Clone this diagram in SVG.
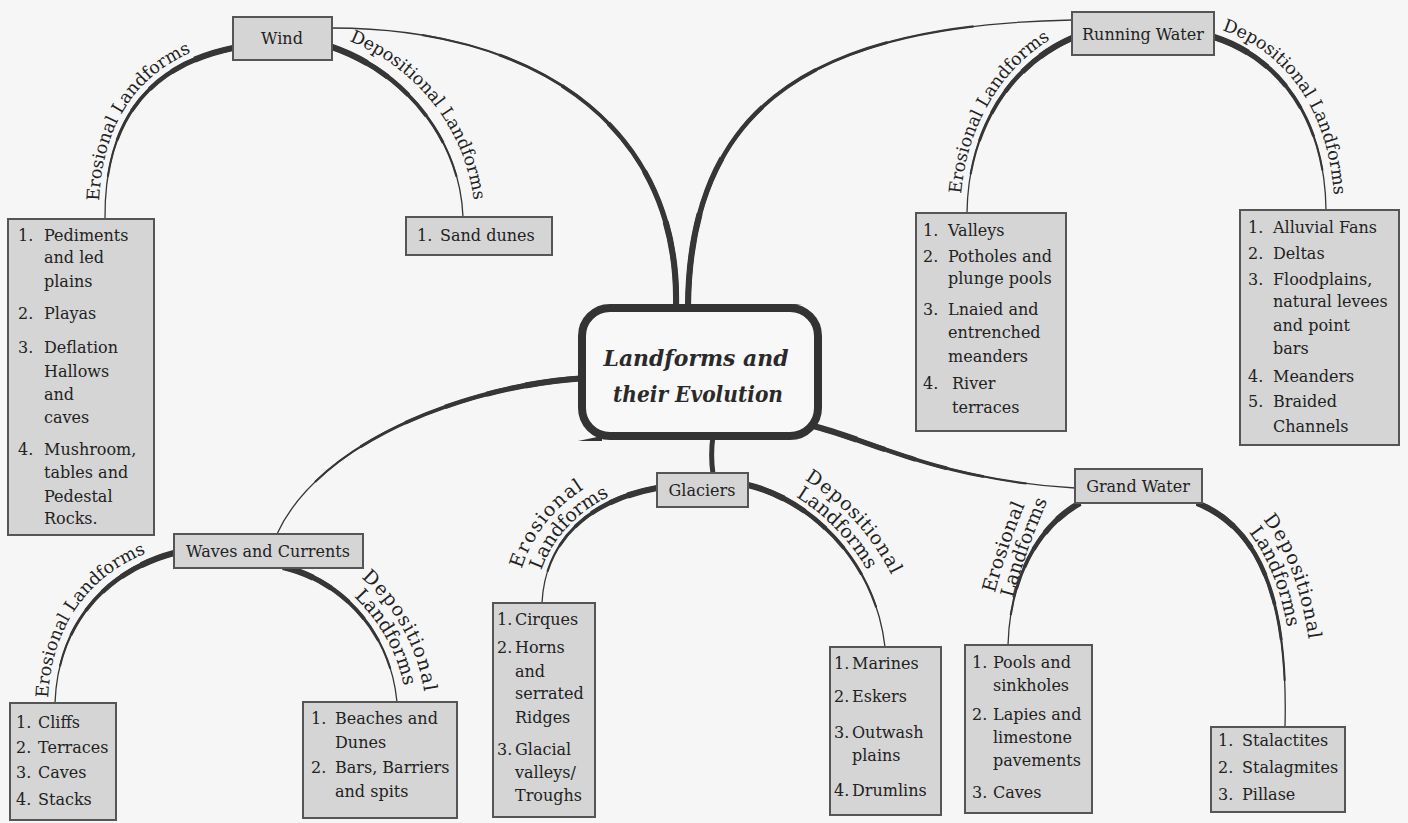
<svg xmlns="http://www.w3.org/2000/svg" width="1408" height="823" viewBox="0 0 1408 823">
<style>
.bg{fill:#f6f6f6}
.box{fill:#d5d5d5;stroke:#555;stroke-width:2}
.hd{font-family:"DejaVu Serif","Liberation Serif",serif;font-size:16px;fill:#222;text-anchor:middle}
.t{font-family:"DejaVu Serif","Liberation Serif",serif;font-size:16px;fill:#222}
.lb{font-family:"DejaVu Serif","Liberation Serif",serif;font-size:17.5px;fill:#222}
.lb2{font-family:"DejaVu Serif","Liberation Serif",serif;font-size:19px;fill:#222}
.ttl{font-family:"DejaVu Serif","Liberation Serif",serif;font-size:23px;font-style:italic;font-weight:bold;fill:#2a2a2a;text-anchor:middle}
.ln{fill:none;stroke:#363636}
.w1{stroke-width:1.3;stroke-linecap:round}
.w2{stroke-width:2.1;stroke-dasharray:82 200}
.w3{stroke-width:2.9;stroke-dasharray:66 200}
.w4{stroke-width:3.7;stroke-dasharray:52 200}
.w5{stroke-width:4.5;stroke-dasharray:40 200}
.w6{stroke-width:5.3;stroke-dasharray:28 200}
.w7{stroke-width:6.1;stroke-dasharray:17 200}
</style>
<defs>
<path id="k1" pathLength="100" d="M676,306 C680,130 540,28 332,28"/>
<path id="k2" pathLength="100" d="M688,306 C690,100 820,25 1072,20"/>
<path id="k3" pathLength="100" d="M586,378 C470,385 320,440 277,534"/>
<path id="k4" pathLength="100" d="M813,426 C870,440 940,480 1075,488"/>
<path id="a1" pathLength="100" d="M233,48 C150,65 104,120 105,219"/>
<path id="a2" pathLength="100" d="M332,47 C405,72 460,140 463,217"/>
<path id="a3" pathLength="100" d="M1072,38 C1010,65 968,130 967,213"/>
<path id="a4" pathLength="100" d="M1214,37 C1280,58 1325,120 1326,210"/>
<path id="a5" pathLength="100" d="M174,553 C110,570 58,620 55,703"/>
<path id="a6" pathLength="100" d="M283,567 C340,580 390,630 397,702"/>
<path id="a7" pathLength="100" d="M657,488 C590,500 545,540 542,603"/>
<path id="a8" pathLength="100" d="M748,485 C810,500 875,560 885,647"/>
<path id="a9" pathLength="100" d="M1080,503 C1040,525 1010,575 1008,645"/>
<path id="a10" pathLength="100" d="M1197,503 C1265,530 1288,610 1285,727"/>
<path id="t1" d="M99,215 C98,116 146,58 230,40"/>
<path id="t2" d="M336,36 C415,62 473,132 476,224"/>
<path id="t3" d="M960,214 C961,126 1006,56 1074,27"/>
<path id="t4" d="M1218,29 C1288,50 1334,115 1335,217"/>
<path id="t5" d="M48,702 C50,614 104,561 172,545"/>
<path id="t6" d="M285,558 C342,571 399,629 406,701 L409,750"/>
<path id="t8" d="M535,603 C538,540 589,493 656,481 L700,474"/>
<path id="t10" d="M750,477 C812,492 883,559 893,646 L896,690"/>
<path id="t12" d="M1010,610 C1020,570 1032,535 1050,495 L1060,475"/>
<path id="t14" d="M1200,495 C1268,522 1297,610 1294,727 L1293,760"/>
</defs>
<rect class="bg" x="0" y="0" width="1408" height="823"/>

<g id="connectors">
<g class="ln">
<use href="#k1" class="w1"/><use href="#k1" class="w2"/><use href="#k1" class="w3"/><use href="#k1" class="w4"/><use href="#k1" class="w5"/><use href="#k1" class="w6"/><use href="#k1" class="w7"/>
<use href="#k2" class="w1"/><use href="#k2" class="w2"/><use href="#k2" class="w3"/><use href="#k2" class="w4"/><use href="#k2" class="w5"/><use href="#k2" class="w6"/><use href="#k2" class="w7"/>
<use href="#k3" class="w1"/><use href="#k3" class="w2"/><use href="#k3" class="w3"/><use href="#k3" class="w4"/><use href="#k3" class="w5"/><use href="#k3" class="w6"/><use href="#k3" class="w7"/>
<use href="#k4" class="w1"/><use href="#k4" class="w2"/><use href="#k4" class="w3"/><use href="#k4" class="w4"/><use href="#k4" class="w5"/><use href="#k4" class="w6"/><use href="#k4" class="w7"/>
<path d="M713,436 C711,450 711,460 713,474" stroke-width="5"/>
<use href="#a1" class="w1"/><use href="#a1" class="w2"/><use href="#a1" class="w3"/><use href="#a1" class="w4"/><use href="#a1" class="w5"/><use href="#a1" class="w6"/><use href="#a1" class="w7"/>
<use href="#a2" class="w1"/><use href="#a2" class="w2"/><use href="#a2" class="w3"/><use href="#a2" class="w4"/><use href="#a2" class="w5"/><use href="#a2" class="w6"/><use href="#a2" class="w7"/>
<use href="#a3" class="w1"/><use href="#a3" class="w2"/><use href="#a3" class="w3"/><use href="#a3" class="w4"/><use href="#a3" class="w5"/><use href="#a3" class="w6"/><use href="#a3" class="w7"/>
<use href="#a4" class="w1"/><use href="#a4" class="w2"/><use href="#a4" class="w3"/><use href="#a4" class="w4"/><use href="#a4" class="w5"/><use href="#a4" class="w6"/><use href="#a4" class="w7"/>
<use href="#a5" class="w1"/><use href="#a5" class="w2"/><use href="#a5" class="w3"/><use href="#a5" class="w4"/><use href="#a5" class="w5"/><use href="#a5" class="w6"/><use href="#a5" class="w7"/>
<use href="#a6" class="w1"/><use href="#a6" class="w2"/><use href="#a6" class="w3"/><use href="#a6" class="w4"/><use href="#a6" class="w5"/><use href="#a6" class="w6"/><use href="#a6" class="w7"/>
<use href="#a7" class="w1"/><use href="#a7" class="w2"/><use href="#a7" class="w3"/><use href="#a7" class="w4"/><use href="#a7" class="w5"/><use href="#a7" class="w6"/><use href="#a7" class="w7"/>
<use href="#a8" class="w1"/><use href="#a8" class="w2"/><use href="#a8" class="w3"/><use href="#a8" class="w4"/><use href="#a8" class="w5"/><use href="#a8" class="w6"/><use href="#a8" class="w7"/>
<use href="#a9" class="w1"/><use href="#a9" class="w2"/><use href="#a9" class="w3"/><use href="#a9" class="w4"/><use href="#a9" class="w5"/><use href="#a9" class="w6"/><use href="#a9" class="w7"/>
<use href="#a10" class="w1"/><use href="#a10" class="w2"/><use href="#a10" class="w3"/><use href="#a10" class="w4"/><use href="#a10" class="w5"/><use href="#a10" class="w6"/><use href="#a10" class="w7"/>
</g>
<text class="lb"><textPath href="#t1" startOffset="14">Erosional Landforms</textPath></text>
<text class="lb"><textPath href="#t2" startOffset="14">Depositional Landforms</textPath></text>
<text class="lb"><textPath href="#t3" startOffset="20">Erosional Landforms</textPath></text>
<text class="lb"><textPath href="#t4" startOffset="4">Depositional Landforms</textPath></text>
<text class="lb"><textPath href="#t5" startOffset="4">Erosional Landforms</textPath></text>
<text class="lb2"><textPath href="#t6" startOffset="80">Landforms</textPath></text>
<text class="lb2" dy="-19"><textPath href="#t6" startOffset="72">Depositional</textPath></text>
<text class="lb2"><textPath href="#t8" startOffset="33">Landforms</textPath></text>
<text class="lb2" dy="-19"><textPath href="#t8" startOffset="28">Erosional</textPath></text>
<text class="lb2"><textPath href="#t10" startOffset="50">Landforms</textPath></text>
<text class="lb2" dy="-19"><textPath href="#t10" startOffset="48">Depositional</textPath></text>
<text class="lb2"><textPath href="#t12" startOffset="12">Landforms</textPath></text>
<text class="lb2" dy="-19"><textPath href="#t12" startOffset="12">Erosional</textPath></text>
<text class="lb2"><textPath href="#t14" startOffset="62">Landforms</textPath></text>
<text class="lb2" dy="-19"><textPath href="#t14" startOffset="60">Depositional</textPath></text>
</g>

<g id="center">
<rect x="582" y="308" width="236" height="128" rx="28" fill="#f8f8f8" stroke="#333" stroke-width="8"/>
<path d="M760,305 L802,304 L760,310 Z" fill="#333"/>
<path d="M602,436 L578,441 L602,441 Z" fill="#333"/>
<text class="ttl" x="696" y="366" textLength="185" lengthAdjust="spacingAndGlyphs">Landforms and</text>
<text class="ttl" x="698" y="402" textLength="170" lengthAdjust="spacingAndGlyphs">their Evolution</text>
</g>

<g id="wind">
<rect class="box" x="233" y="17" width="99" height="43"/>
<text class="hd" x="282" y="44">Wind</text>
</g>
<g id="wind-erosional">
<rect class="box" x="8" y="219" width="146" height="316"/>
<text class="t">
<tspan x="18" y="241">1.</tspan><tspan x="44" y="241">Pediments</tspan>
<tspan x="44" y="263">and led</tspan>
<tspan x="44" y="287">plains</tspan>
<tspan x="18" y="319">2.</tspan><tspan x="44" y="319">Playas</tspan>
<tspan x="18" y="353">3.</tspan><tspan x="44" y="353">Deflation</tspan>
<tspan x="44" y="377">Hallows</tspan>
<tspan x="44" y="400">and</tspan>
<tspan x="44" y="423">caves</tspan>
<tspan x="18" y="455">4.</tspan><tspan x="44" y="455">Mushroom,</tspan>
<tspan x="44" y="478">tables and</tspan>
<tspan x="44" y="502">Pedestal</tspan>
<tspan x="44" y="524">Rocks.</tspan>
</text>
</g>
<g id="wind-depositional">
<rect class="box" x="406" y="217" width="146" height="38"/>
<text class="t"><tspan x="417" y="241">1.</tspan><tspan x="440" y="241">Sand dunes</tspan></text>
</g>

<g id="running-water">
<rect class="box" x="1072" y="12" width="142" height="43"/>
<text class="hd" x="1143" y="40">Running Water</text>
</g>
<g id="running-erosional">
<rect class="box" x="916" y="213" width="150" height="218"/>
<text class="t">
<tspan x="923" y="236">1.</tspan><tspan x="948" y="236">Valleys</tspan>
<tspan x="923" y="262">2.</tspan><tspan x="948" y="262">Potholes and</tspan>
<tspan x="948" y="284">plunge pools</tspan>
<tspan x="923" y="315">3.</tspan><tspan x="948" y="315">Lnaied and</tspan>
<tspan x="948" y="338">entrenched</tspan>
<tspan x="948" y="362">meanders</tspan>
<tspan x="923" y="389">4.</tspan><tspan x="952" y="389">River</tspan>
<tspan x="952" y="413">terraces</tspan>
</text>
</g>
<g id="running-depositional">
<rect class="box" x="1240" y="210" width="159" height="235"/>
<text class="t">
<tspan x="1248" y="233">1.</tspan><tspan x="1273" y="233">Alluvial Fans</tspan>
<tspan x="1248" y="259">2.</tspan><tspan x="1273" y="259">Deltas</tspan>
<tspan x="1248" y="285">3.</tspan><tspan x="1273" y="285">Floodplains,</tspan>
<tspan x="1273" y="307">natural levees</tspan>
<tspan x="1273" y="331">and point</tspan>
<tspan x="1273" y="354">bars</tspan>
<tspan x="1248" y="382">4.</tspan><tspan x="1273" y="382">Meanders</tspan>
<tspan x="1248" y="407">5.</tspan><tspan x="1273" y="407">Braided</tspan>
<tspan x="1273" y="432">Channels</tspan>
</text>
</g>

<g id="waves">
<rect class="box" x="174" y="534" width="189" height="34"/>
<text class="hd" x="268" y="557">Waves and Currents</text>
</g>
<g id="waves-erosional">
<rect class="box" x="10" y="703" width="106" height="117"/>
<text class="t">
<tspan x="16" y="728">1.</tspan><tspan x="38" y="728">Cliffs</tspan>
<tspan x="16" y="753">2.</tspan><tspan x="38" y="753">Terraces</tspan>
<tspan x="16" y="778">3.</tspan><tspan x="38" y="778">Caves</tspan>
<tspan x="16" y="805">4.</tspan><tspan x="38" y="805">Stacks</tspan>
</text>
</g>
<g id="waves-depositional">
<rect class="box" x="303" y="702" width="154" height="116"/>
<text class="t">
<tspan x="311" y="724">1.</tspan><tspan x="335" y="724">Beaches and</tspan>
<tspan x="335" y="748">Dunes</tspan>
<tspan x="311" y="773">2.</tspan><tspan x="335" y="773">Bars, Barriers</tspan>
<tspan x="335" y="797">and spits</tspan>
</text>
</g>

<g id="glaciers">
<rect class="box" x="657" y="473" width="91" height="34"/>
<text class="hd" x="702" y="496">Glaciers</text>
</g>
<g id="glaciers-erosional">
<rect class="box" x="493" y="603" width="102" height="214"/>
<text class="t">
<tspan x="497" y="625">1.</tspan><tspan x="515" y="625">Cirques</tspan>
<tspan x="497" y="653">2.</tspan><tspan x="515" y="653">Horns</tspan>
<tspan x="515" y="677">and</tspan>
<tspan x="515" y="699">serrated</tspan>
<tspan x="515" y="723">Ridges</tspan>
<tspan x="497" y="755">3.</tspan><tspan x="515" y="755">Glacial</tspan>
<tspan x="515" y="778">valleys/</tspan>
<tspan x="515" y="801">Troughs</tspan>
</text>
</g>
<g id="glaciers-depositional">
<rect class="box" x="830" y="647" width="111" height="168"/>
<text class="t">
<tspan x="834" y="669">1.</tspan><tspan x="852" y="669">Marines</tspan>
<tspan x="834" y="702">2.</tspan><tspan x="852" y="702">Eskers</tspan>
<tspan x="834" y="738">3.</tspan><tspan x="852" y="738">Outwash</tspan>
<tspan x="852" y="761">plains</tspan>
<tspan x="834" y="796">4.</tspan><tspan x="852" y="796">Drumlins</tspan>
</text>
</g>

<g id="grand-water">
<rect class="box" x="1075" y="469" width="127" height="34"/>
<text class="hd" x="1138" y="492">Grand Water</text>
</g>
<g id="grand-erosional">
<rect class="box" x="965" y="645" width="127" height="168"/>
<text class="t">
<tspan x="972" y="668">1.</tspan><tspan x="993" y="668">Pools and</tspan>
<tspan x="993" y="691">sinkholes</tspan>
<tspan x="972" y="720">2.</tspan><tspan x="993" y="720">Lapies and</tspan>
<tspan x="993" y="743">limestone</tspan>
<tspan x="993" y="766">pavements</tspan>
<tspan x="972" y="798">3.</tspan><tspan x="993" y="798">Caves</tspan>
</text>
</g>
<g id="grand-depositional">
<rect class="box" x="1211" y="727" width="134" height="85"/>
<text class="t">
<tspan x="1218" y="746">1.</tspan><tspan x="1242" y="746">Stalactites</tspan>
<tspan x="1218" y="773">2.</tspan><tspan x="1242" y="773">Stalagmites</tspan>
<tspan x="1218" y="800">3.</tspan><tspan x="1242" y="800">Pillase</tspan>
</text>
</g>
</svg>
